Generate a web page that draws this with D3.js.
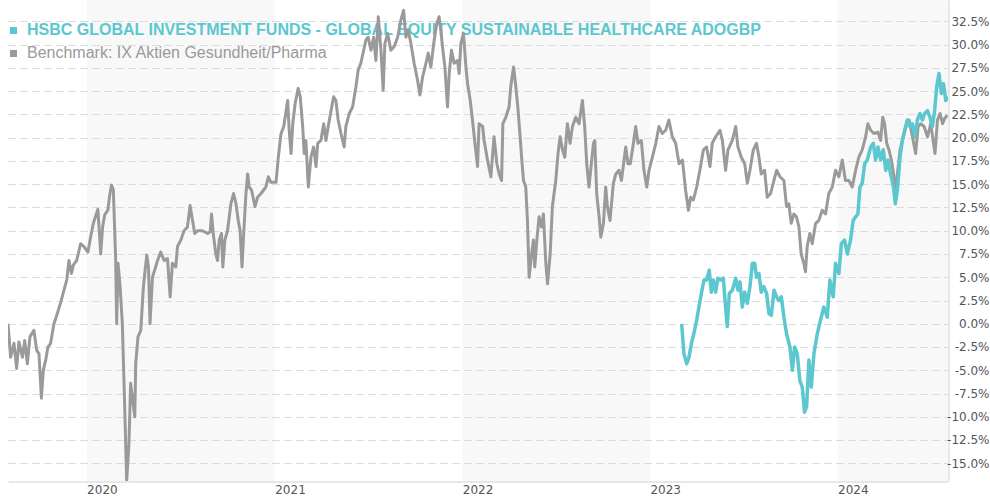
<!DOCTYPE html>
<html>
<head>
<meta charset="utf-8">
<script src="https://cdn.jsdelivr.net/npm/d3@7"></script>
<style>
body { margin: 0; background: #fff; }
svg { display: block; }
</style>
</head>
<body>
<svg id="chart" width="990" height="500"></svg>
<script>
// performance in % since start; time as decimal year
var seriesNames = [
  'HSBC GLOBAL INVESTMENT FUNDS - GLOBAL EQUITY SUSTAINABLE HEALTHCARE ADOGBP',
  'Benchmark: IX Aktien Gesundheit/Pharma'
];

var fund = [
  [2023.169,0.0],[2023.181,-3.2],[2023.196,-4.3],[2023.208,-3.6],[2023.221,-2.1],[2023.234,-1.05],
  [2023.249,0.4],[2023.261,1.8],[2023.274,3.25],[2023.288,4.7],[2023.302,4.7],[2023.316,5.75],
  [2023.327,3.4],[2023.338,4.7],[2023.350,3.4],[2023.362,4.9],[2023.377,4.7],[2023.391,4.9],
  [2023.403,1.8],[2023.412,-0.3],[2023.423,3.25],[2023.439,3.6],[2023.457,4.9],[2023.469,3.6],
  [2023.480,4.5],[2023.492,1.8],[2023.505,3.4],[2023.519,2.2],[2023.533,4.0],[2023.546,6.5],
  [2023.558,6.5],[2023.568,5.0],[2023.581,5.4],[2023.593,3.4],[2023.607,4.0],[2023.622,3.25],
  [2023.634,1.1],[2023.647,0.9],[2023.661,3.6],[2023.675,2.9],[2023.687,2.5],[2023.700,2.9],
  [2023.714,0.7],[2023.728,-1.05],[2023.746,-2.5],[2023.759,-5.0],[2023.771,-2.5],[2023.785,-3.2],
  [2023.799,-6.1],[2023.812,-6.8],[2023.824,-9.5],[2023.835,-8.9],[2023.847,-3.9],[2023.860,-6.8],
  [2023.874,-3.2],[2023.892,-1.05],[2023.909,0.4],[2023.927,1.8],[2023.945,0.7],[2023.959,4.7],
  [2023.977,2.9],[2023.989,6.5],[2024.007,5.4],[2024.020,8.6],[2024.037,9.0],[2024.052,7.5],
  [2024.069,9.0],[2024.083,11.1],[2024.096,11.5],[2024.108,11.8],[2024.119,14.7],[2024.131,15.1],
  [2024.144,17.2],[2024.158,17.6],[2024.176,19.0],[2024.190,19.4],[2024.202,17.6],[2024.215,19.0],
  [2024.229,17.6],[2024.243,18.7],[2024.256,16.5],[2024.268,17.6],[2024.282,16.1],[2024.297,14.7],
  [2024.307,12.9],[2024.318,14.35],[2024.332,17.9],[2024.344,19.7],[2024.357,20.8],[2024.371,21.9],
  [2024.385,21.2],[2024.398,21.5],[2024.412,20.1],[2024.424,21.9],[2024.438,22.6],[2024.451,21.9],
  [2024.463,22.6],[2024.478,22.9],[2024.491,22.2],[2024.504,21.2],[2024.516,22.9],[2024.527,25.5],
  [2024.539,26.9],[2024.552,24.75],[2024.563,25.8],[2024.575,24.0],[2024.587,24.4]
];

var benchmark = [
  [2019.581,0.0],[2019.595,-3.6],[2019.613,-2.1],[2019.627,-4.8],[2019.639,-1.95],[2019.658,-3.6],
  [2019.670,-1.8],[2019.684,-4.3],[2019.698,-1.4],[2019.719,-0.7],[2019.734,-2.85],[2019.746,-3.2],
  [2019.759,-8.0],[2019.769,-5.0],[2019.782,-3.9],[2019.794,-2.5],[2019.808,-2.1],[2019.826,0.0],
  [2019.844,1.1],[2019.862,2.3],[2019.879,3.6],[2019.894,4.7],[2019.906,6.8],[2019.919,5.4],
  [2019.929,6.3],[2019.947,6.8],[2019.968,8.6],[2019.986,8.3],[2020.007,7.7],[2020.021,9.3],
  [2020.036,10.8],[2020.060,12.3],[2020.075,7.5],[2020.085,10.4],[2020.096,11.7],[2020.113,12.2],
  [2020.124,14.0],[2020.133,14.9],[2020.142,14.4],[2020.154,7.2],[2020.160,0.0],[2020.167,6.5],
  [2020.177,4.3],[2020.190,0.0],[2020.202,-8.6],[2020.213,-16.9],[2020.225,-12.9],[2020.234,-6.4],
  [2020.243,-7.9],[2020.256,-10.0],[2020.261,-4.3],[2020.273,-1.4],[2020.288,-0.7],[2020.302,4.0],
  [2020.311,5.75],[2020.320,7.4],[2020.329,6.1],[2020.337,0.0],[2020.350,5.0],[2020.367,6.1],
  [2020.377,6.8],[2020.394,7.7],[2020.412,6.8],[2020.430,7.0],[2020.444,2.9],[2020.456,6.5],
  [2020.474,6.1],[2020.483,8.3],[2020.501,9.0],[2020.518,10.0],[2020.536,10.4],[2020.550,12.7],
  [2020.563,11.1],[2020.575,9.7],[2020.590,10.0],[2020.616,10.0],[2020.643,9.7],[2020.657,9.9],
  [2020.664,11.8],[2020.673,9.7],[2020.687,7.5],[2020.696,6.8],[2020.705,9.0],[2020.717,9.7],
  [2020.724,6.1],[2020.735,9.0],[2020.749,10.0],[2020.767,12.9],[2020.781,14.0],[2020.794,12.9],
  [2020.806,11.1],[2020.816,10.0],[2020.826,6.1],[2020.835,9.7],[2020.847,14.0],[2020.856,16.1],
  [2020.864,14.7],[2020.877,14.35],[2020.895,12.6],[2020.909,13.6],[2020.927,14.0],[2020.953,14.7],
  [2020.966,15.8],[2020.980,15.2],[2021.007,15.2],[2021.019,17.9],[2021.033,20.4],[2021.048,21.2],
  [2021.060,22.8],[2021.069,24.0],[2021.077,20.8],[2021.087,18.3],[2021.096,21.5],[2021.109,23.7],
  [2021.125,25.3],[2021.136,24.4],[2021.149,21.2],[2021.157,18.3],[2021.166,19.7],[2021.179,14.7],
  [2021.193,17.9],[2021.207,19.0],[2021.220,16.9],[2021.229,19.4],[2021.246,19.7],[2021.261,21.5],
  [2021.273,19.7],[2021.285,21.2],[2021.300,22.9],[2021.314,24.4],[2021.326,24.0],[2021.338,21.9],
  [2021.353,20.45],[2021.370,19.0],[2021.379,21.2],[2021.397,22.6],[2021.415,23.3],[2021.433,25.5],
  [2021.445,27.3],[2021.459,28.0],[2021.474,29.4],[2021.486,30.5],[2021.498,30.8],[2021.513,29.4],
  [2021.527,30.8],[2021.539,28.3],[2021.552,33.0],[2021.566,29.4],[2021.578,25.1],[2021.587,30.1],
  [2021.602,31.2],[2021.619,29.4],[2021.637,29.8],[2021.655,30.8],[2021.672,32.6],[2021.687,33.7],
  [2021.699,30.8],[2021.711,31.6],[2021.726,30.1],[2021.743,28.0],[2021.761,26.2],[2021.774,24.6],
  [2021.788,26.5],[2021.806,28.0],[2021.818,29.1],[2021.832,27.6],[2021.850,30.5],[2021.864,32.3],
  [2021.876,33.0],[2021.885,31.6],[2021.894,29.8],[2021.907,27.6],[2021.921,23.3],[2021.930,26.9],
  [2021.942,29.4],[2021.956,28.0],[2021.974,28.3],[2021.983,26.9],[2021.992,30.1],[2022.006,31.2],
  [2022.019,27.6],[2022.028,25.8],[2022.042,24.0],[2022.054,21.9],[2022.067,19.4],[2022.081,16.9],
  [2022.089,21.5],[2022.108,21.2],[2022.116,19.7],[2022.134,17.6],[2022.152,15.8],[2022.169,20.1],
  [2022.184,17.2],[2022.196,16.1],[2022.209,15.4],[2022.216,21.5],[2022.232,22.2],[2022.249,23.3],
  [2022.258,25.5],[2022.273,27.6],[2022.285,25.5],[2022.297,23.0],[2022.308,20.1],[2022.317,17.6],
  [2022.326,15.4],[2022.338,14.7],[2022.347,11.1],[2022.356,5.0],[2022.369,7.5],[2022.379,9.0],
  [2022.386,6.1],[2022.397,9.0],[2022.409,11.5],[2022.422,10.4],[2022.432,11.8],[2022.445,6.5],
  [2022.454,4.3],[2022.468,7.5],[2022.480,12.6],[2022.498,15.4],[2022.510,18.3],[2022.521,20.1],
  [2022.534,18.7],[2022.546,17.9],[2022.560,21.5],[2022.574,19.4],[2022.587,21.2],[2022.604,22.2],
  [2022.622,21.5],[2022.640,24.0],[2022.652,21.2],[2022.663,17.2],[2022.675,14.7],[2022.684,16.5],
  [2022.699,19.4],[2022.706,19.7],[2022.716,14.0],[2022.729,11.5],[2022.738,9.3],[2022.752,10.8],
  [2022.764,14.7],[2022.773,12.6],[2022.787,11.1],[2022.805,15.1],[2022.818,16.1],[2022.835,16.5],
  [2022.848,15.4],[2022.862,17.6],[2022.871,19.0],[2022.883,17.2],[2022.895,17.2],[2022.912,19.4],
  [2022.924,21.2],[2022.936,19.4],[2022.954,19.7],[2022.968,16.5],[2022.983,14.7],[2022.995,16.5],
  [2023.013,17.9],[2023.031,19.4],[2023.048,21.2],[2023.066,20.45],[2023.084,20.8],[2023.101,21.9],
  [2023.119,20.1],[2023.137,19.4],[2023.155,17.2],[2023.173,17.6],[2023.190,14.35],[2023.205,12.2],
  [2023.217,13.6],[2023.231,13.3],[2023.249,14.7],[2023.266,16.5],[2023.285,18.7],[2023.302,19.0],
  [2023.320,16.9],[2023.332,19.4],[2023.350,20.1],[2023.373,20.8],[2023.386,19.7],[2023.403,16.5],
  [2023.416,18.7],[2023.439,19.7],[2023.457,21.2],[2023.469,19.0],[2023.487,17.9],[2023.505,17.2],
  [2023.519,15.1],[2023.533,16.5],[2023.551,18.7],[2023.568,19.4],[2023.581,17.9],[2023.593,16.1],
  [2023.611,16.5],[2023.625,13.6],[2023.643,14.0],[2023.661,15.4],[2023.675,16.5],[2023.693,15.8],
  [2023.714,15.4],[2023.728,12.6],[2023.740,12.9],[2023.753,10.8],[2023.767,11.8],[2023.781,11.5],
  [2023.794,10.4],[2023.806,7.5],[2023.820,6.5],[2023.829,5.6],[2023.838,8.3],[2023.852,9.7],
  [2023.865,8.6],[2023.883,10.8],[2023.900,11.1],[2023.918,12.2],[2023.936,11.8],[2023.953,14.0],
  [2023.972,14.7],[2023.989,16.5],[2024.007,15.8],[2024.025,17.6],[2024.042,15.4],[2024.060,15.4],
  [2024.078,14.7],[2024.096,16.5],[2024.113,17.9],[2024.131,18.7],[2024.149,20.1],[2024.161,21.5],
  [2024.176,20.8],[2024.193,20.45],[2024.215,20.6],[2024.229,19.7],[2024.240,22.2],[2024.250,21.5],
  [2024.261,19.4],[2024.273,18.7],[2024.286,17.6],[2024.300,15.8],[2024.309,14.0],[2024.318,16.1],
  [2024.332,18.7],[2024.350,20.1],[2024.367,21.5],[2024.380,21.9],[2024.398,20.1],[2024.415,18.3],
  [2024.428,21.2],[2024.442,21.5],[2024.460,21.2],[2024.478,20.1],[2024.495,21.5],[2024.510,19.4],
  [2024.518,18.3],[2024.531,21.9],[2024.545,22.6],[2024.558,21.5],[2024.570,22.1],[2024.584,22.4]
];

var yTicks = [-15, -12.5, -10, -7.5, -5, -2.5, 0, 2.5, 5, 7.5, 10, 12.5, 15, 17.5, 20, 22.5, 25, 27.5, 30, 32.5];
var yDomain = [-16.9, 34.8];
var xTickYears = [2020, 2021, 2022, 2023, 2024];
var shadedYears = [2020, 2022, 2024];

var colors = ['#5cc7cf', '#9a9a9a'];

function toDate(y) {
  var yr = Math.floor(y);
  var s = new Date(yr, 0, 1), e = new Date(yr + 1, 0, 1);
  return new Date(+s + (y - yr) * (e - s));
}

var plotLeft = 8, plotRight = 948, plotTop = 0, plotBottom = 481;
var svg = d3.select('#chart');

var x = d3.scaleTime()
  .domain([toDate(benchmark[0][0]), toDate(fund[fund.length - 1][0])])
  .range([plotLeft, plotRight]);
var y = d3.scaleLinear().domain(yDomain).range([plotBottom, plotTop]);

svg.append('defs').append('clipPath').attr('id', 'plot')
  .append('rect').attr('x', plotLeft).attr('y', plotTop)
  .attr('width', plotRight - plotLeft).attr('height', plotBottom - plotTop);

// alternating year bands
svg.append('g').selectAll('rect')
  .data(shadedYears)
  .enter().append('rect')
  .attr('x', function(d) { return x(new Date(d, 0, 1)); })
  .attr('y', plotTop)
  .attr('width', function(d) {
    return Math.min(x(new Date(d + 1, 0, 1)), plotRight) - x(new Date(d, 0, 1));
  })
  .attr('height', plotBottom - plotTop)
  .attr('fill', '#f8f8f8');

// grid
svg.append('g').selectAll('line')
  .data(yTicks)
  .enter().append('line')
  .attr('x1', plotLeft).attr('x2', plotRight)
  .attr('y1', function(d) { return Math.round(y(d)) + 0.5; })
  .attr('y2', function(d) { return Math.round(y(d)) + 0.5; })
  .attr('stroke', '#dcdcdc')
  .attr('stroke-dasharray', '8,4');

// legend
var legend = svg.append('g').attr('font-family', 'Liberation Sans, Arial, sans-serif').attr('font-size', 16);
seriesNames.forEach(function(name, i) {
  var ly = 35 + i * 23;
  legend.append('rect').attr('x', 10).attr('y', ly - 8).attr('width', 7).attr('height', 7).attr('fill', colors[i]);
  legend.append('text').attr('x', 27).attr('y', ly)
    .attr('fill', colors[i])
    .attr('font-weight', i === 0 ? 'bold' : 'normal')
    .text(name);
});

// lines
var line = d3.line()
  .x(function(d) { return x(toDate(d[0])); })
  .y(function(d) { return y(d[1]); });

var lines = svg.append('g').attr('clip-path', 'url(#plot)');
lines.append('path').datum(benchmark)
  .attr('d', line).attr('fill', 'none')
  .attr('stroke', colors[1]).attr('stroke-width', 3)
  .attr('stroke-linejoin', 'round');
lines.append('path').datum(fund)
  .attr('d', line).attr('fill', 'none')
  .attr('stroke', colors[0]).attr('stroke-width', 3.5)
  .attr('stroke-linejoin', 'round');

// axes
var yAxis = svg.append('g')
  .attr('transform', 'translate(' + (plotRight + 0.5) + ',0)')
  .call(d3.axisRight(y).tickValues(yTicks).tickSize(0).tickSizeOuter(0)
    .tickFormat(function(d) { return d.toFixed(1) + '%'; }));
yAxis.select('.domain').attr('stroke', '#d0d0d0');
yAxis.selectAll('text')
  .attr('x', 41).attr('text-anchor', 'end')
  .attr('font-family', 'DejaVu Sans, Verdana, sans-serif').attr('font-size', 12)
  .attr('fill', '#555');

var xAxis = svg.append('g')
  .attr('transform', 'translate(0,' + (plotBottom + 0.5) + ')')
  .call(d3.axisBottom(x)
    .tickValues(xTickYears.map(function(d) { return new Date(d, 0, 1); }))
    .tickSize(0).tickSizeOuter(0)
    .tickFormat(d3.timeFormat('%Y')));
xAxis.select('.domain').attr('stroke', '#d0d0d0');
xAxis.selectAll('text')
  .attr('y', 12).attr('dy', 0).attr('text-anchor', 'start')
  .attr('font-family', 'DejaVu Sans, Verdana, sans-serif').attr('font-size', 12)
  .attr('fill', '#555');
</script>
</body>
</html>
